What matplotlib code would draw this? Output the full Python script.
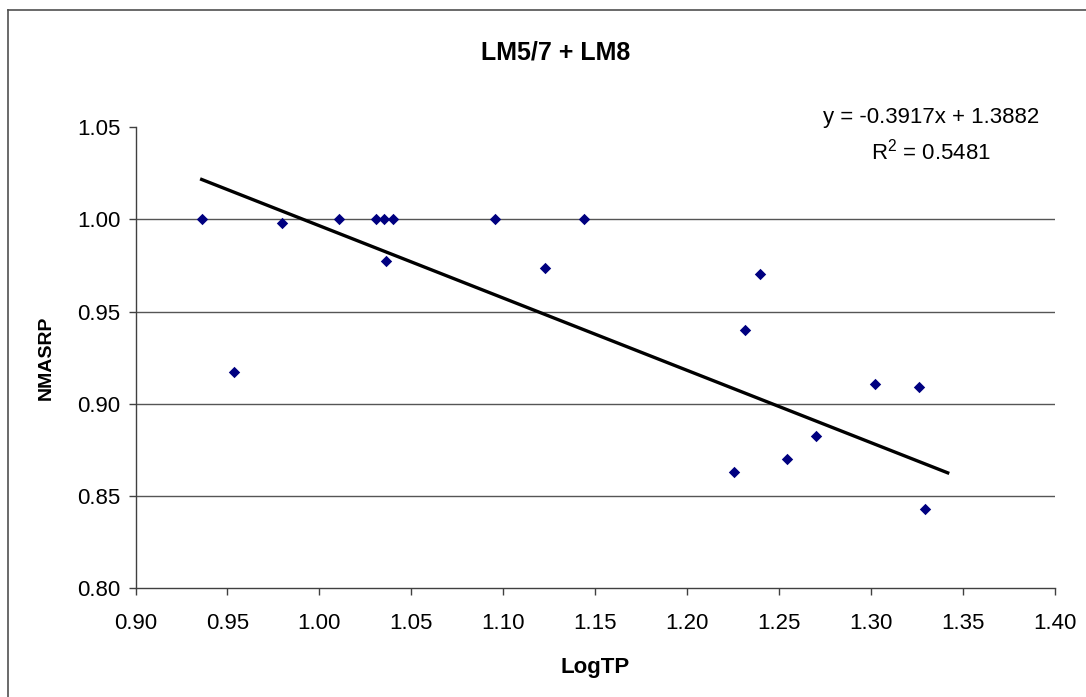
import numpy as np
import matplotlib
matplotlib.use("Agg")
import matplotlib.pyplot as plt
from matplotlib.lines import Line2D

plt.rcParams["font.family"] = ["Liberation Sans", "DejaVu Sans"]
plt.rcParams["mathtext.fontset"] = "custom"
plt.rcParams["mathtext.rm"] = "Liberation Sans"

# data
log_tp = [0.936, 0.9535, 0.9798, 1.0108, 1.0311, 1.0352, 1.0361, 1.0401,
          1.0954, 1.1226, 1.1439, 1.2255, 1.2314, 1.2399, 1.2546, 1.2703,
          1.3024, 1.3265, 1.3294]
nmasrp = [1.000, 0.9173, 0.998, 1.000, 1.000, 1.000, 0.9775, 1.000,
          1.000, 0.9737, 1.000, 0.8632, 0.9398, 0.9706, 0.870, 0.8827,
          0.9105, 0.9089, 0.8428]
slope = -0.3917
intercept = 1.3882
r2 = 0.5481
forecast = 0.0125

xticks = np.arange(0.90, 1.401, 0.05)
yticks = np.arange(0.80, 1.051, 0.05)

W, H = 1086, 697
fig = plt.figure(figsize=(W / 100, H / 100), dpi=100)
ax = fig.add_axes([135.5 / W, 1 - 588.3 / H, (1054.5 - 135.5) / W, (588.3 - 127) / H])

# chart area border (only left/top inside the picture)
fig.add_artist(Line2D([8 / W, 8 / W], [0, 1 - 10 / H], color="#505050", lw=1.2))
fig.add_artist(Line2D([8 / W, 1], [1 - 10 / H, 1 - 10 / H], color="#505050", lw=1.2))

ax.set_xlim(0.90, 1.40)
ax.set_ylim(0.80, 1.05)

for yv in yticks[1:-1]:
    ax.axhline(yv, color="#555555", lw=1.0, zorder=1)

ax.scatter(log_tp, nmasrp, marker="D", s=5.8 ** 2, color="#000080", zorder=3, linewidths=0)

tx = np.array([min(log_tp), max(log_tp) + forecast])
ax.plot(tx, slope * tx + intercept, color="black", lw=2.4, zorder=2)

for s in ["top", "right"]:
    ax.spines[s].set_visible(False)
for s in ["left", "bottom"]:
    ax.spines[s].set_color("#404040")
    ax.spines[s].set_linewidth(1.0)

ax.set_xticks(xticks)
ax.set_yticks(yticks)
ax.set_xticklabels(["%.2f" % v for v in xticks])
ax.set_yticklabels(["%.2f" % v for v in yticks])
ax.tick_params(direction="out", length=5, width=1.0, color="#404040", labelsize=16, pad=6)
ax.tick_params(axis="x", pad=13)

ax.set_xlabel("LogTP", fontsize=16, fontweight="bold", labelpad=16)
ax.set_ylabel("NMASRP", fontsize=14, fontweight="bold", labelpad=16)

fig.text(556 / W, 1 - 52 / H, "LM5/7 + LM8", fontsize=18, fontweight="bold",
         ha="center", va="center")

ax.text(931 / W, 1 - 118 / H, "y = %.4fx + %.4f" % (slope, intercept), fontsize=16,
        ha="center", va="center", transform=fig.transFigure)
ax.text(931 / W, 1 - 152 / H, r"R$^2$ = %.4f" % r2, fontsize=16,
        ha="center", va="center", transform=fig.transFigure)

fig.savefig("out.png", dpi=100)
